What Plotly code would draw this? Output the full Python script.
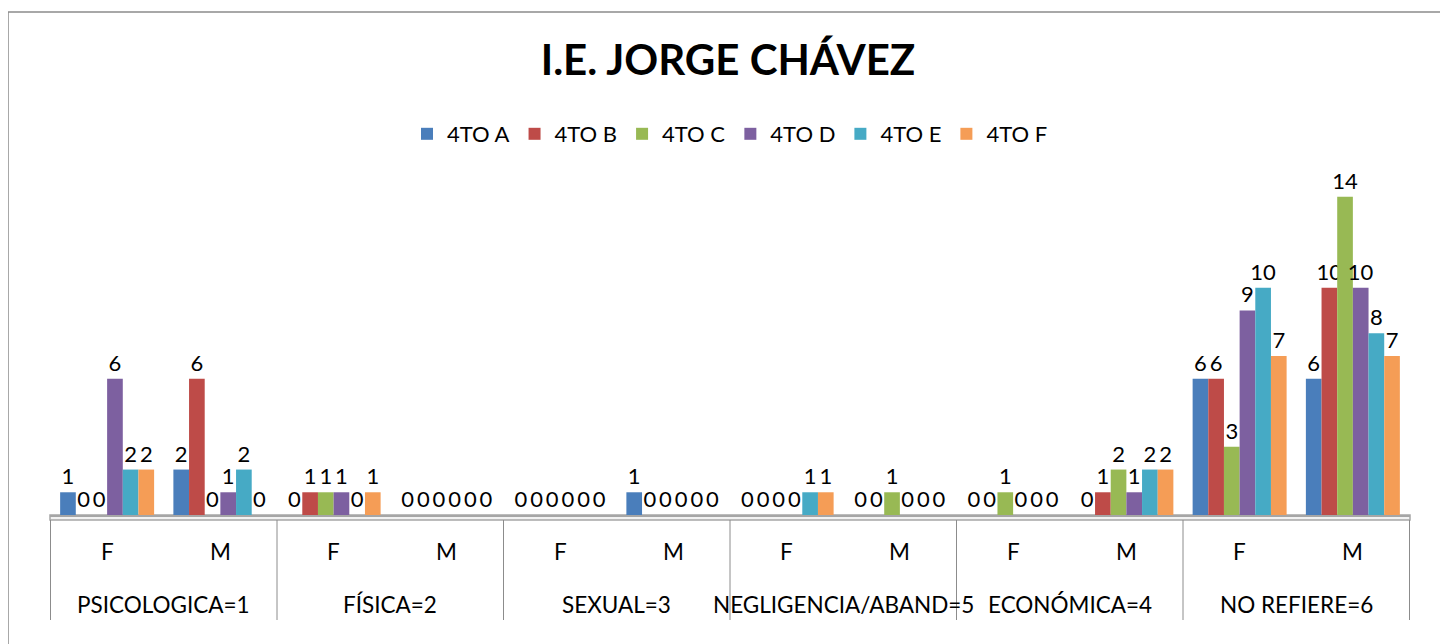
import plotly.graph_objects as go

categories = ["PSICOLOGICA=1", "FÍSICA=2", "SEXUAL=3", "NEGLIGENCIA/ABAND=5", "ECONÓMICA=4", "NO REFIERE=6"]
sexes = ["F", "M"]
series_names = ["4TO A", "4TO B", "4TO C", "4TO D", "4TO E", "4TO F"]
colors = ["#4A7EBB", "#BE4B48", "#98B954", "#7D60A0", "#46AAC5", "#F59D56"]

# values per series, order: PSI F, PSI M, FIS F, FIS M, SEX F, SEX M, NEG F, NEG M, ECO F, ECO M, NR F, NR M
v_4to_a = [1, 2, 0, 0, 0, 1, 0, 0, 0, 0, 6, 6]
v_4to_b = [0, 6, 1, 0, 0, 0, 0, 0, 0, 1, 6, 10]
v_4to_c = [0, 0, 1, 0, 0, 0, 0, 1, 1, 2, 3, 14]
v_4to_d = [6, 1, 1, 0, 0, 0, 0, 0, 0, 1, 9, 10]
v_4to_e = [2, 2, 0, 0, 0, 0, 1, 0, 0, 2, 10, 8]
v_4to_f = [2, 0, 1, 0, 0, 0, 1, 0, 0, 2, 7, 7]
all_values = [v_4to_a, v_4to_b, v_4to_c, v_4to_d, v_4to_e, v_4to_f]

xkeys = [f"{c} {s}" for c in categories for s in sexes]

FONT = "Lato, Calibri, Arial, sans-serif"

W, H = 1440, 636
ml, mr, mt, mb = 42, 38, 182, 129
PT, PB = mt, H - mb          # plot top / bottom in pixels
PH = PB - PT
PW = W - ml - mr


def py(p):
    """pixel y -> paper y"""
    return (PB - p) / PH


fig = go.Figure()
for name, vals, col in zip(series_names, all_values, colors):
    fig.add_trace(go.Bar(
        x=xkeys, y=vals, name=name,
        marker=dict(color=col, line=dict(width=0)),
        text=vals, textposition="outside", cliponaxis=False,
        constraintext="none", textangle=0,
        textfont=dict(size=22, color="black", family=FONT),
    ))

fig.update_layout(
    width=W, height=H,
    margin=dict(l=ml, r=mr, t=mt, b=mb),
    paper_bgcolor="white", plot_bgcolor="white",
    barmode="group", bargap=0.17, bargroupgap=0,
    font=dict(family=FONT, size=22, color="black"),
    title=dict(text="<b>I.E. JORGE CHÁVEZ</b>", x=0.5, xanchor="center",
               y=1 - 52 / H, yanchor="middle",
               font=dict(size=42, family=FONT, color="black")),
    legend=dict(orientation="h", x=0.5, xanchor="center", y=1 - 126 / H, yref="container",
                yanchor="middle", font=dict(size=22, family=FONT), itemwidth=30,
                traceorder="normal"),
    showlegend=True,
)
fig.update_xaxes(type="category", showticklabels=False, showline=True,
                 linecolor="#A6A6A6", linewidth=2, showgrid=False, ticks="")
fig.update_yaxes(range=[0, 14.3], visible=False, showgrid=False, zeroline=False)

# floor edge
fig.add_shape(type="rect", xref="paper", yref="paper", x0=0, x1=1,
              y0=py(512), y1=py(507), line=dict(color="#A6A6A6", width=1.5),
              fillcolor="#F2F2F2", layer="below")

# category table: inner (F/M) and outer labels, dividers
for key in xkeys:
    fig.add_annotation(x=key, xref="x", y=py(543), yref="paper", text=key.split()[-1],
                       xanchor="center", yanchor="middle",
                       showarrow=False, font=dict(size=22.5, family=FONT, color="black"))
for j, c in enumerate(categories):
    fig.add_annotation(x=2 * j + 0.5, xref="x", y=py(596), yref="paper", text=c,
                       xanchor="center", yanchor="middle",
                       showarrow=False, font=dict(size=22.5, family=FONT, color="black"))
for j in range(len(categories) + 1):
    fig.add_shape(type="line", xref="x", yref="paper", x0=2 * j - 0.5, x1=2 * j - 0.5,
                  y0=py(512), y1=py(612), line=dict(color="#8C8C8C", width=1))

# outer chart border
fig.add_shape(type="rect", xref="paper", yref="paper",
              x0=(0 - ml) / PW, x1=(1433 - ml) / PW,
              y0=py(700), y1=py(4),
              line=dict(color="#8C8C8C", width=1.5), fillcolor="rgba(0,0,0,0)", layer="below")

fig.write_html("out.html")
